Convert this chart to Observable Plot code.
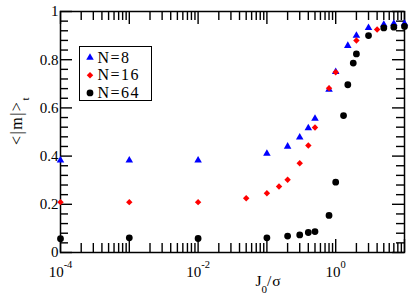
<!DOCTYPE html>
<html>
<head>
<meta charset="utf-8">
<script src="https://cdn.jsdelivr.net/npm/d3@7"></script>
<script src="https://cdn.jsdelivr.net/npm/@observablehq/plot@0.6"></script>
<style>
  html, body { margin: 0; padding: 0; background: white; }
</style>
</head>
<body>
<div id="chart"></div>
<script>
// ---- data ----
const x8  = [1e-4, 1e-3, 1e-2, 0.1, 0.2, 0.3, 0.4, 0.5, 0.8, 1.0, 1.5, 2, 3, 5, 7, 10];
const m8  = [0.382, 0.382, 0.382, 0.41, 0.44, 0.478, 0.516, 0.556, 0.676, 0.75, 0.858, 0.90, 0.932, 0.946, 0.95, 0.95];

const x16 = [1e-4, 1e-3, 1e-2, 0.05, 0.1, 0.15, 0.2, 0.3, 0.4, 0.5, 0.8, 1.0, 2, 4];
const m16 = [0.209, 0.209, 0.209, 0.225, 0.246, 0.274, 0.302, 0.37, 0.444, 0.519, 0.682, 0.748, 0.88, 0.925];

const x64 = [1e-4, 1e-3, 1e-2, 0.1, 0.2, 0.3, 0.4, 0.5, 0.8, 1.0, 1.3, 1.5, 1.8, 2, 3, 5, 7, 10];
const m64 = [0.057, 0.061, 0.058, 0.061, 0.068, 0.073, 0.083, 0.087, 0.154, 0.292, 0.568, 0.696, 0.786, 0.824, 0.90, 0.932, 0.935, 0.938];

const seriesNames = ["N=8", "N=16", "N=64"];
const seriesColors = ["#0000ff", "#ff0000", "#000000"];
const seriesSymbols = ["triangle", "diamond2", "circle"];
const seriesR = [2.8, 2.9, 3.4];

const xTickLabels = [1e-4, 1e-2, 1];
const xMajor = [1e-4, 1e-3, 1e-2, 1e-1, 1, 10];
const yTickLabels = [0, 0.2, 0.4, 0.6, 0.8, 1];

// minor ticks
const xMinor = [];
for (let e = -4; e <= 0; e++) for (let k = 2; k <= 9; k++) xMinor.push(k * Math.pow(10, e));
const yMinor = [];
for (let i = 1; i < 25; i++) if (i % 5 !== 0) yMinor.push(i * 0.04);

const W = 415, H = 300;
const mt = 11, mr = 11, mb = 48, ml = 60;
const pw = W - ml - mr, ph = H - mt - mb;

const table = (xs, ms, s) => xs.map((x, i) => ({x, m: ms[i], s}));
const d8 = table(x8, m8, 0), d16 = table(x16, m16, 1), d64 = table(x64, m64, 2);
const allData = [d8, d16, d64];

const tickStyle = {stroke: "black", strokeWidth: 1.4};
const majLen = 13, minLen = 9, yMajLen = 12, yMinLen = 8;

const marks = [
  // ticks bottom / top (inward)
  Plot.tickX(xMajor, {x: d => d, insetTop: ph - majLen, ...tickStyle}),
  Plot.tickX(xMinor, {x: d => d, insetTop: ph - minLen, ...tickStyle}),
  Plot.tickX(xMajor, {x: d => d, insetBottom: ph - majLen, ...tickStyle}),
  Plot.tickX(xMinor, {x: d => d, insetBottom: ph - minLen, ...tickStyle}),
  // ticks left / right (inward)
  Plot.tickY(yTickLabels, {y: d => d, insetRight: pw - yMajLen, ...tickStyle}),
  Plot.tickY(yMinor, {y: d => d, insetRight: pw - yMinLen, ...tickStyle}),
  Plot.tickY(yTickLabels, {y: d => d, insetLeft: pw - yMajLen, ...tickStyle}),
  Plot.tickY(yMinor, {y: d => d, insetLeft: pw - yMinLen, ...tickStyle}),
  Plot.frame({stroke: "black", strokeWidth: 1.5}),
  // y tick labels
  Plot.axisY(yTickLabels, {tickSize: 0, tickPadding: 2, fontSize: 15, label: null, tickFormat: d => d3.format("")(d)}),
  // x tick labels (exponent turned into superscript below)
  Plot.text(xTickLabels, {x: d => d, frameAnchor: "bottom", dy: 24, lineAnchor: "bottom",
    text: d => "10^" + Math.round(Math.log10(d)), fontSize: 15}),
  // axis labels
  Plot.text(["J_0_/σ"], {frameAnchor: "bottom", dx: 36, dy: 33, lineAnchor: "bottom",
    text: d => d, fontSize: 15.5}),
  Plot.text(["<|m|>_t"], {frameAnchor: "left", dx: -39, dy: 13, rotate: -90, lineAnchor: "bottom",
    text: d => d, fontSize: 16}),
];

// data points
allData.forEach((d, i) => {
  marks.push(Plot.dot(d, {x: "x", y: "m", symbol: () => seriesSymbols[i], r: seriesR[i],
    fill: seriesColors[i], stroke: "none"}));
});

// legend inside plot
marks.push(Plot.frame({insetLeft: 19, insetTop: 35, insetRight: 253, insetBottom: 152, stroke: "black", strokeWidth: 1}));
seriesNames.forEach((name, i) => {
  const dy = 46 + i * 17.7;
  marks.push(Plot.dot([name], {frameAnchor: "top-left", dx: 29.5, dy, symbol: () => seriesSymbols[i],
    r: seriesR[i], fill: seriesColors[i], stroke: "none"}));
  marks.push(Plot.text([name], {frameAnchor: "top-left", dx: 37, dy, text: d => d, textAnchor: "start",
    lineAnchor: "middle", fontSize: 16}));
});

const svg = Plot.plot({
  width: W, height: H,
  marginTop: mt, marginRight: mr, marginBottom: mb, marginLeft: ml,
  style: {fontFamily: "'Liberation Serif', 'Times New Roman', serif", fontSize: "15px", background: "white", color: "black"},
  x: {type: "log", domain: [1e-4, 10], axis: null},
  y: {domain: [0, 1], axis: null},
  symbol: {type: "identity"},
  marks
});

// superscripts / subscripts as tspans, slightly widened legend text
d3.select(svg).selectAll("text").each(function() {
  const s = this.textContent;
  const t = d3.select(this);
  if (s.startsWith("10^")) {
    const e = s.slice(3);
    t.text(null);
    t.append("tspan").text("10");
    t.append("tspan").attr("dy", -9).attr("font-size", 10.5).text(e);
  } else if (s === "J_0_/σ") {
    t.text(null);
    t.append("tspan").text("J");
    t.append("tspan").attr("dy", 7).attr("font-size", 11).text("0");
    t.append("tspan").attr("dy", -7).attr("letter-spacing", 1).text("/σ");
  } else if (s === "<|m|>_t") {
    t.text(null);
    t.append("tspan").attr("letter-spacing", 1.5).text("<|m|>");
    t.append("tspan").attr("dy", 7).attr("font-size", 11).text("t");
  } else if (seriesNames.includes(s)) {
    t.attr("letter-spacing", 1.5);
  }
});

document.getElementById("chart").appendChild(svg);
</script>
</body>
</html>
